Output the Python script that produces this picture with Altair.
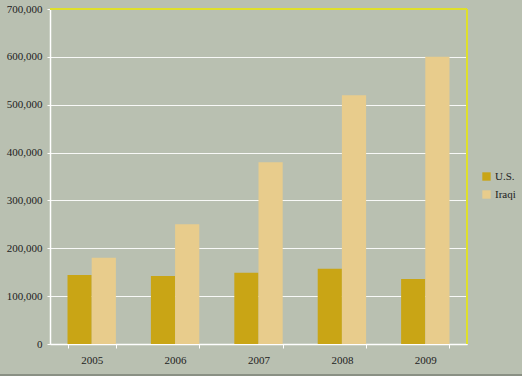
import altair as alt
import pandas as pd

years = ["2005", "2006", "2007", "2008", "2009"]
us = [144000, 142000, 149000, 157000, 136000]
iraqi = [180000, 250000, 380000, 520000, 600000]
series = ["U.S.", "Iraqi"]

rows = []
for i, y in enumerate(years):
    rows.append({"year": y, "series": "U.S.", "value": us[i]})
    rows.append({"year": y, "series": "Iraqi", "value": iraqi[i]})
df = pd.DataFrame(rows)

FONT = "Liberation Serif"
W, H = 417, 335

x_scale = alt.Scale(paddingInner=0.42, paddingOuter=0.21)
y_scale = alt.Scale(domain=[0, 700000])

bars = alt.Chart(df).mark_bar().encode(
    x=alt.X("year:N", title=None, scale=x_scale, sort=years,
            axis=alt.Axis(labelAngle=0, tickBand="extent", domainColor="white",
                          tickColor="white", tickSize=4, domainWidth=1.5,
                          labelPadding=6, labelFont=FONT, labelFontSize=11,
                          labelColor="#222222", grid=False)),
    y=alt.Y("value:Q", title=None, scale=y_scale,
            axis=alt.Axis(values=[0, 100000, 200000, 300000, 400000, 500000, 600000, 700000],
                          format=",.0f", domainColor="white", tickColor="white", tickSize=3,
                          domainWidth=1.5, gridColor="white", gridWidth=1.2, gridOpacity=0.9,
                          labelFont=FONT, labelFontSize=11, labelColor="#222222",
                          labelPadding=5)),
    xOffset=alt.XOffset("series:N", sort=series),
    color=alt.Color("series:N", sort=series,
                    scale=alt.Scale(domain=series, range=["#c9a515", "#e8cc8c"]),
                    legend=alt.Legend(title=None, orient="none", legendX=431, legendY=162,
                                      symbolType="square", symbolSize=70,
                                      symbolStrokeWidth=0, labelFont=FONT,
                                      labelFontSize=11, labelColor="#222222",
                                      rowPadding=6, labelOffset=3)),
)

top_line = alt.Chart(pd.DataFrame({"v": [700000]})).mark_rule(
    color="#dfe02a", strokeWidth=2).encode(y=alt.Y("v:Q", scale=y_scale))
right_line = alt.Chart(pd.DataFrame({"v": [0]})).mark_rule(
    color="#dfe02a", strokeWidth=2).encode(
    x=alt.value(W), y=alt.value(0), y2=alt.value(H))
bottom_strip = alt.Chart(pd.DataFrame({"v": [0]})).mark_rect(
    color="#8a9084", clip=False).encode(
    x=alt.value(-60), x2=alt.value(W + 60), y=alt.value(H + 30), y2=alt.value(H + 40))

chart = alt.layer(bars, top_line, right_line, bottom_strip).properties(
    width=W, height=H,
    background="#b9c0b1",
    padding={"left": 50, "top": 9, "right": 55, "bottom": 32},
    autosize=alt.AutoSizeParams(type="none"),
).configure_view(stroke=None)

chart.save("out.html", embed_options={"renderer": "svg", "actions": False})
